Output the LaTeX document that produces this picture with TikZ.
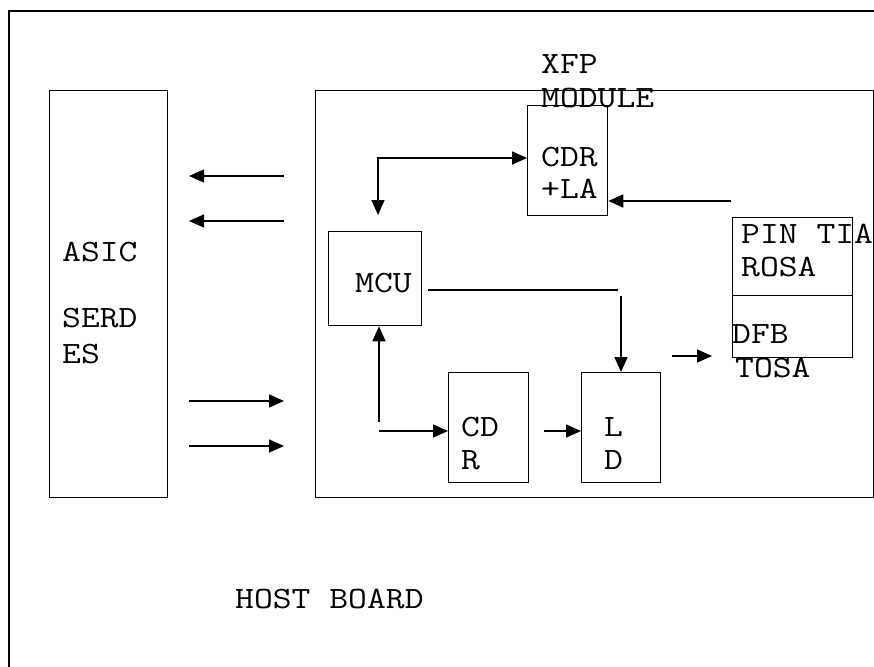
\documentclass[tikz,border=0pt]{standalone}
\usepackage{fontspec}
\setmonofont{Latin Modern Mono}[FakeStretch=1.18]
\usetikzlibrary{arrows.meta}
\begin{document}
\begin{tikzpicture}[x=1pt,y=-1pt,
  box/.style={draw,line width=1.3pt,inner sep=0pt,anchor=north west},
  lbl/.style={font=\ttfamily\fontsize{31}{33}\selectfont,inner sep=0pt,anchor=base west},
  arr/.style={line width=1.5pt,-{Triangle[length=15pt,width=13pt]}},
  darr/.style={line width=1.5pt,{Triangle[length=15pt,width=13pt]}-{Triangle[length=15pt,width=13pt]}},
  ln/.style={line width=1.5pt}]
\useasboundingbox (0,0) rectangle (874,666);
\clip (0,0) rectangle (874,666);
% host board outline (continues beyond the picture)
\draw[ln] (9,700) |- (900,11);
% boxes
\node[box,minimum width=118pt,minimum height=407pt] (asic) at (49,90) {};
\node[box,minimum width=558pt,minimum height=407pt] (xfp) at (315,90) {};
\node[box,minimum width=80pt,minimum height=110pt] (cdrla) at (527,105) {};
\node[box,minimum width=120pt,minimum height=78pt] (rosa) at (732,217) {};
\node[box,minimum width=120pt,minimum height=62pt] (tosa) at (732,295) {};
\node[box,minimum width=93pt,minimum height=94pt] (mcu) at (328,231) {};
\node[box,minimum width=80pt,minimum height=110pt] (cdr) at (448,372) {};
\node[box,minimum width=79pt,minimum height=110pt] (ld) at (581,372) {};
% labels
\node[lbl] (tasic) at (62,261) {ASIC};
\node[lbl] (tserd) at (62,327) {SERD};
\node[lbl] (tes) at (62,363) {ES};
\node[lbl] (txfp) at (541,74) {XFP};
\node[lbl] (tmod) at (541,107) {MODULE};
\node[lbl] (tcdr) at (541,166) {CDR};
\node[lbl] (tla) at (541,198) {+LA};
\node[lbl] (tpin) at (741,243) {PIN TIA};
\node[lbl] (trosa) at (741,276) {ROSA};
\node[lbl] (tdfb) at (732,343) {DFB};
\node[lbl] (ttosa) at (735,377) {TOSA};
\node[lbl] (tmcu) at (355,292) {MCU};
\node[lbl] (tcd) at (461,436) {CD};
\node[lbl] (tr) at (461,469) {R};
\node[lbl] (tl) at (604,436) {L};
\node[lbl] (td) at (604,469) {D};
\node[lbl] (thost) at (235,608) {HOST BOARD};
% free ends of connectors
\coordinate (a1s) at (284,176); \coordinate (a1e) at (189,176);
\coordinate (a2s) at (284,221); \coordinate (a2e) at (189,221);
\coordinate (a3s) at (189,401); \coordinate (a3e) at (284,401);
\coordinate (a4s) at (189,446); \coordinate (a4e) at (284,446);
\coordinate (rx) at (731,201);
\coordinate (mtop) at (378,215);
\coordinate (mcorner) at (378,158);
\coordinate (mo1) at (428,290);
\coordinate (mo2) at (618,290);
\coordinate (lds) at (621,296);
\coordinate (cup) at (379,422);
\coordinate (cin) at (379,431);
\coordinate (cdo) at (544,431);
\coordinate (txs) at (672,356);
\coordinate (txe) at (712,356);
% connectors
\draw[arr] (a1s) -- (a1e);
\draw[arr] (a2s) -- (a2e);
\draw[arr] (a3s) -- (a3e);
\draw[arr] (a4s) -- (a4e);
\draw[arr] (rx) -- (rx -| cdrla.east);
\draw[darr] (mtop) -- (mcorner) -- (mcorner -| cdrla.west);
\draw[ln] (mo1) -- (mo2);
\draw[arr] (lds) -- (lds |- ld.north);
\draw[arr] (cup) -- (cup |- mcu.south);
\draw[arr] (cin) -- (cin -| cdr.west);
\draw[arr] (cdo) -- (cdo -| ld.west);
\draw[arr] (txs) -- (txe);
\end{tikzpicture}
\end{document}
